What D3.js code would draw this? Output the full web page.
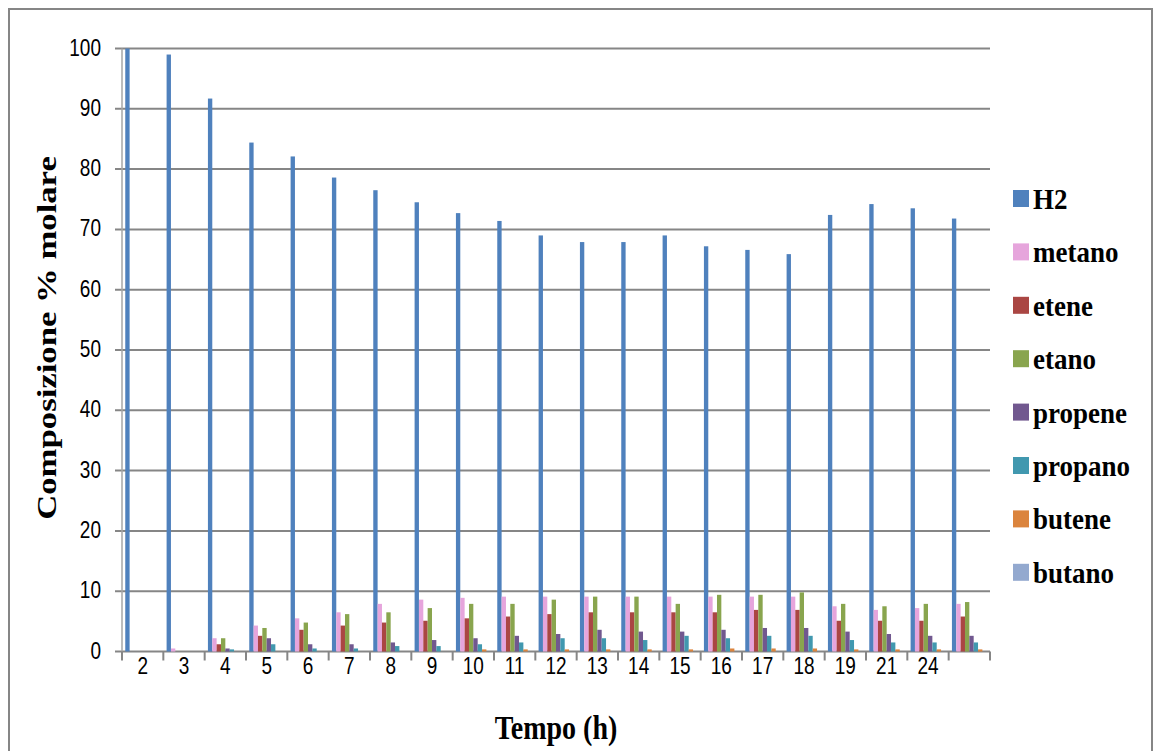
<!DOCTYPE html>
<html>
<head>
<meta charset="utf-8">
<script src="https://cdnjs.cloudflare.com/ajax/libs/d3/7.8.5/d3.min.js"></script>
<style>
  html, body { margin: 0; padding: 0; background: #ffffff; }
  svg { display: block; }
</style>
</head>
<body>
<svg id="chart" width="1155" height="751"></svg>
<script>
// ---- Data ----
const categories = ["2","3","4","5","6","7","8","9","10","11","12","13","14","15","16","17","18","19","21","24",""];
const seriesNames = ["H2","metano","etene","etano","propene","propano","butene","butano"];
const H2      = [100, 99.0, 91.7, 84.4, 82.1, 78.6, 76.5, 74.5, 72.7, 71.4, 69.0, 67.9, 67.9, 69.0, 67.2, 66.6, 65.9, 72.4, 74.2, 73.5, 71.8];
const metano  = [0, 0.5, 2.2, 4.3, 5.5, 6.5, 7.9, 8.6, 8.9, 9.1, 9.1, 9.1, 9.1, 9.1, 9.1, 9.1, 9.1, 7.5, 6.9, 7.2, 7.9];
const etene   = [0, 0, 1.2, 2.6, 3.6, 4.3, 4.8, 5.1, 5.5, 5.8, 6.2, 6.5, 6.5, 6.5, 6.5, 6.9, 6.9, 5.1, 5.1, 5.1, 5.8];
const etano   = [0, 0, 2.2, 3.9, 4.8, 6.2, 6.5, 7.2, 7.9, 7.9, 8.6, 9.1, 9.1, 7.9, 9.4, 9.4, 9.8, 7.9, 7.5, 7.9, 8.2];
const propene = [0, 0, 0.5, 2.2, 1.2, 1.2, 1.5, 1.9, 2.2, 2.6, 2.9, 3.6, 3.3, 3.3, 3.6, 3.9, 3.9, 3.3, 2.9, 2.6, 2.6];
const propano = [0, 0, 0.35, 1.2, 0.5, 0.5, 0.9, 0.9, 1.2, 1.5, 2.2, 2.2, 1.9, 2.6, 2.2, 2.6, 2.6, 1.9, 1.5, 1.5, 1.5];
const butene  = [0, 0, 0, 0, 0, 0, 0, 0, 0.35, 0.35, 0.35, 0.35, 0.35, 0.35, 0.5, 0.5, 0.5, 0.35, 0.35, 0.35, 0.35];
const butano  = [0, 0, 0, 0, 0, 0, 0, 0, 0, 0, 0, 0, 0, 0, 0, 0, 0, 0, 0, 0, 0];
const colors  = ["#4F81BD","#E6A5DC","#AA4643","#89A54E","#71588F","#4198AF","#DB843D","#93A9CF"];
const yTicks  = [0,10,20,30,40,50,60,70,80,90,100];
const yTitle  = "Composizione % molare";
const xTitle  = "Tempo (h)";

const seriesValues = [H2, metano, etene, etano, propene, propano, butene, butano];

// ---- Layout ----
const svg = d3.select("#chart");
const plotLeft = 122, plotRight = 990, plotTop = 48.5, plotBottom = 651.5;
const SY = 1.22; // vertical text stretch of the reference
const gray = "#868686";

svg.append("rect").attr("x",0).attr("y",0).attr("width",1155).attr("height",751).attr("fill","#fff");
svg.append("rect").attr("x",9).attr("y",9).attr("width",1143).attr("height",760)
  .attr("fill","none").attr("stroke",gray).attr("stroke-width",2);

const x0 = d3.scaleBand().domain(categories.map((c,i)=>i)).range([plotLeft,plotRight]).paddingInner(0).paddingOuter(0);
const x1 = d3.scaleBand().domain(seriesNames).range([0, x0.bandwidth()]).paddingInner(0).paddingOuter(0.75);
const y = d3.scaleLinear().domain([0,100]).range([plotBottom, plotTop]);

function stretchedText(parent, x, yPos, s, opts) {
  const g = parent.append("g").attr("transform", `translate(${x},${yPos}) scale(1,${opts.sy || SY})` + (opts.rotate ? ` rotate(${opts.rotate})` : ""));
  return g.append("text")
    .attr("x",0).attr("y",0)
    .attr("text-anchor", opts.anchor || "start")
    .attr("font-family", opts.family)
    .attr("font-size", opts.size)
    .attr("font-weight", opts.weight || "normal")
    .attr("fill", "#000")
    .text(s);
}

// gridlines (extend left as tick marks)
svg.append("g").selectAll("line").data(yTicks).join("line")
  .attr("x1", plotLeft - 7).attr("x2", plotRight)
  .attr("y1", d => y(d)).attr("y2", d => y(d))
  .attr("stroke", gray).attr("stroke-width", 2);

// vertical axis line
svg.append("line").attr("x1", plotLeft).attr("x2", plotLeft).attr("y1", y(100)).attr("y2", y(0))
  .attr("stroke", "#a6a6a6").attr("stroke-width", 1.5);

// x ticks at band boundaries
const boundaries = d3.range(categories.length + 1).map(i => plotLeft + i * x0.step());
svg.append("g").selectAll("line").data(boundaries).join("line")
  .attr("x1", d => d).attr("x2", d => d)
  .attr("y1", y(0)).attr("y2", y(0) + 9)
  .attr("stroke", gray).attr("stroke-width", 2);

// bars
const groups = svg.append("g").selectAll("g").data(categories.map((c,i)=>i)).join("g")
  .attr("transform", i => `translate(${x0(i)},0)`);
groups.selectAll("rect").data(i => seriesNames.map((s,k) => ({s, k, v: seriesValues[k][i]}))).join("rect")
  .attr("x", d => x1(d.s))
  .attr("width", x1.bandwidth())
  .attr("y", d => y(d.v))
  .attr("height", d => y(0) - y(d.v))
  .attr("fill", d => colors[d.k]);

// y tick labels
yTicks.forEach(t => {
  stretchedText(svg, 101, y(t) + 7, String(t), {anchor:"end", family:"'Liberation Sans', Arial, sans-serif", size:19});
});

// x tick labels
categories.forEach((c,i) => {
  if (c === "") return;
  stretchedText(svg, x0(i) + x0.bandwidth()/2, 674, c, {anchor:"middle", family:"'Liberation Sans', Arial, sans-serif", size:19});
});

// axis titles
stretchedText(svg, 556, 739, xTitle, {anchor:"middle", family:"'Liberation Serif', 'Times New Roman', serif", size:28, weight:"bold"});
stretchedText(svg, 56, 338, yTitle, {anchor:"middle", family:"'Liberation Serif', 'Times New Roman', serif", size:28, weight:"bold", rotate:-90, sy:1.24});

// legend
const legendTop = 198.5, legendStep = 53.4;
seriesNames.forEach((s,k) => {
  const cy = legendTop + k * legendStep;
  svg.append("rect").attr("x",1013).attr("y", cy - 8.5).attr("width",16).attr("height",17).attr("fill", colors[k]);
  stretchedText(svg, 1033, cy + 10.5, s, {family:"'Liberation Serif', 'Times New Roman', serif", size:27, weight:"bold", sy:1.12});
});
</script>
</body>
</html>
